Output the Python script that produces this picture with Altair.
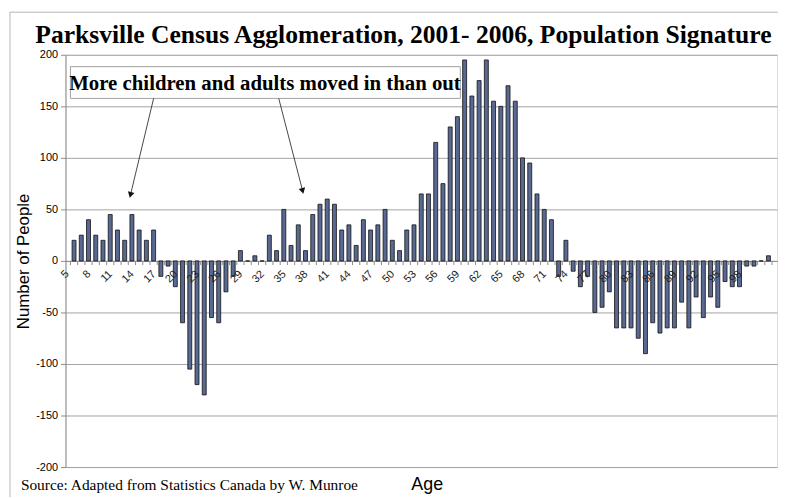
import altair as alt
import pandas as pd

# ---- data ----
ages = list(range(5, 102))
values = [
    20, 25, 40, 25, 20, 45, 30, 20, 45, 30, 20, 30,            # 5-16
    -15, -5, -25, -60, -105, -120, -130, -55, -60, -30, -15,   # 17-27
    10, 0, 5, 0, 25, 10,                                       # 28-33
    50, 15, 35, 10, 45, 55, 60, 55, 30, 35, 15, 40, 30, 35, 50, 20,   # 34-49
    10, 30, 35, 65, 65, 115, 75, 130, 140, 195, 160, 175, 195, 155, 150, 170,  # 50-65
    155, 100, 95, 65, 50, 40, -15, 20,                         # 66-73
    -10, -25, -15, -50, -45, -30, -65, -65, -65, -75, -90, -60, -70, -65,  # 74-87
    -65, -40, -65, -35, -55, -35, -45, -20, -25, -25, -5, -5, 0, 5,         # 88-101
]
label_ages = list(range(5, 99, 3))
y_ticks = [200, 150, 100, 50, 0, -50, -100, -150, -200]

title_text = "Parksville Census Agglomeration, 2001- 2006, Population Signature"
note_text = "More children and adults moved in than out"
source_text = "Source: Adapted from Statistics Canada by W. Munroe"
x_title = "Age"
y_title = "Number of People"

# annotation box and arrows (in data units: age, people)
box_x, box_x2, box_y, box_y2 = 4.5, 58.4, 157.7, 188.5
note_x, note_y = 31.4, 172
arrow_x = [16.0, 33.3]
arrow_y = [157.7, 157.7]
arrow_x2 = [12.8, 36.6]
arrow_y2 = [64, 68]
arrow_angle = [14.5, 345.5]

W, H = 718, 416

df = pd.DataFrame({"age": ages, "value": values})
ticks_df = pd.DataFrame({"age": [a - 0.5 for a in ages] + [ages[-1] + 0.5]})
ticks_df["value"] = 0
ticks_df["value2"] = -4
labels_df = pd.DataFrame({"age": label_ages, "value": [0] * len(label_ages),
                          "lab": [str(a) for a in label_ages]})
arrows_df = pd.DataFrame({"age": arrow_x, "value": arrow_y, "age2": arrow_x2, "value2": arrow_y2,
                          "angle": arrow_angle})
heads_df = pd.DataFrame({"age": arrow_x2, "value": arrow_y2, "angle": arrow_angle})
box_df = pd.DataFrame({"age": [box_x], "age2": [box_x2], "value": [box_y], "value2": [box_y2]})
note_df = pd.DataFrame({"age": [note_x], "value": [note_y], "t": [note_text]})

xscale = alt.Scale(domain=[4.5, 101.5], nice=False, zero=False)
yscale = alt.Scale(domain=[-200, 200], nice=False)

AXIS_GRAY = "#8c8c8c"
SANS = "Liberation Sans"
SERIF = "Liberation Serif"

x_axis = alt.Axis(
    values=label_ages, title=None, offset=-H / 2, labels=False, ticks=False, grid=False,
    domainColor=AXIS_GRAY,
)
y_axis = alt.Axis(
    values=y_ticks, title=y_title, grid=True, gridColor="#a3a3a3", domainColor=AXIS_GRAY,
    tickColor=AXIS_GRAY, tickSize=5, labelPadding=3, labelFont=SANS, labelFontSize=11,
    labelColor="#000000", titleFont=SANS, titleFontSize=17, titleFontWeight="normal",
    titleColor="#000000", titlePadding=3, labelExpr="'' + datum.value",
)

X = alt.X("age:Q", scale=xscale, axis=x_axis)
Y = alt.Y("value:Q", scale=yscale, axis=y_axis)

bars = alt.Chart(df).mark_bar(size=4, fill="#5a6992", stroke="#111111", strokeWidth=0.8).encode(x=X, y=Y)

cat_ticks = alt.Chart(ticks_df).mark_rule(color=AXIS_GRAY, strokeWidth=1).encode(x=X, y=Y, y2="value2:Q")

# rotated category labels (Excel style, reading upward to the right)
x_labels = alt.Chart(labels_df).mark_text(
    font=SANS, fontSize=11, color="#222222", angle=315, align="right", baseline="middle",
    dx=-13, dy=3.5,
).encode(x=X, y=Y, text="lab:N")

box = alt.Chart(box_df).mark_rect(fill="white", stroke="#a0a0a0", strokeWidth=1).encode(
    x=X, x2="age2:Q", y=Y, y2="value2:Q"
)
note = alt.Chart(note_df).mark_text(font=SERIF, fontSize=21, fontWeight="bold", color="#000000",
                                    align="center", baseline="middle").encode(x=X, y=Y, text="t:N")

arrow_lines = alt.Chart(arrows_df).mark_rule(color="#333333", strokeWidth=0.9).encode(
    x=X, y=Y, x2="age2:Q", y2="value2:Q"
)
arrow_heads = alt.Chart(heads_df).mark_point(shape="triangle-down", filled=True, color="#111111",
                                             size=45, opacity=1).encode(
    x=X, y=Y, angle=alt.Angle("angle:Q", scale=None)
)

txt_df = pd.DataFrame({"title": [title_text], "source": [source_text], "xt": [x_title]})
title = alt.Chart(txt_df).mark_text(font=SERIF, fontSize=25.8, fontWeight="bold", color="#000000",
                                    align="center", baseline="alphabetic").encode(
    text="title:N", x=alt.value(341), y=alt.value(-12)
)
source = alt.Chart(txt_df).mark_text(font=SERIF, fontSize=15.5, color="#000000",
                                     align="left", baseline="alphabetic").encode(
    text="source:N", x=alt.value(-45), y=alt.value(H + 23)
)
age_title = alt.Chart(txt_df).mark_text(font=SANS, fontSize=18, color="#000000",
                                        align="center", baseline="alphabetic").encode(
    text="xt:N", x=alt.value(365), y=alt.value(H + 23)
)

border = alt.Chart(txt_df).mark_rule(color="#b4b4b4", strokeWidth=1).encode(
    x=alt.value(-56), y=alt.value(-43), y2=alt.value(H + 40)
)
border_top = alt.Chart(txt_df).mark_rule(color="#b4b4b4", strokeWidth=1).encode(
    x=alt.value(-56), x2=alt.value(W + 4), y=alt.value(-43)
)

chart = alt.layer(
    bars, border, border_top, cat_ticks, x_labels, box, note, arrow_lines, arrow_heads,
    title, source, age_title
).properties(
    width=W, height=H,
    autosize=alt.AutoSizeParams(type="none"),
    padding={"left": 58, "top": 45, "right": 1, "bottom": 28},
).configure_view(stroke=None).configure(background="white")

chart.save("out.html", embed_options={"renderer": "svg", "actions": False})
